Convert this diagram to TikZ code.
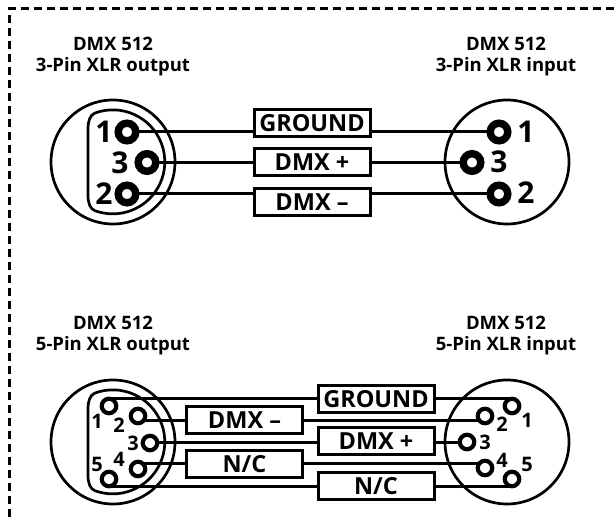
\documentclass[tikz,border=0pt]{standalone}
\usepackage{fontspec}
\setmainfont{Open Sans}
\usetikzlibrary{backgrounds}
\tikzset{
  x=1pt,y=-1pt,
  every node/.style={inner sep=0pt,outer sep=0pt},
  title/.style={font=\bfseries\fontsize{18.5}{20}\selectfont,anchor=base},
  body/.style={draw,line width=2.7pt,circle,minimum size=124pt},
  insert/.style={line width=2.7pt,line join=round},
  bigpin/.style={circle,draw,fill=white,line width=7.4pt,minimum size=17.6pt},
  smallpin/.style={circle,draw,fill=white,line width=4.2pt,minimum size=14.5pt},
  bignum/.style={font=\bfseries\fontsize{30}{32}\selectfont},
  smallnum/.style={font=\bfseries\fontsize{20}{22}\selectfont},
  signal/.style={draw,fill=white,line width=3pt,minimum width=116pt,minimum height=27pt,font=\bfseries\fontsize{23.5}{25}\selectfont},
  wire/.style={line width=3pt},
  frame/.style={line width=3pt,dash pattern=on 8pt off 5pt}
}
\begin{document}
\begin{tikzpicture}
\useasboundingbox (0,0) rectangle (614,526);
\coordinate (fa) at (614,9);
\coordinate (fb) at (9,9);
\coordinate (fc) at (9,520);
\draw[frame] (fa) -- (fb) -- (fc);

\node[title] (t1a) at (113,51) {DMX 512};
\node[title] (t1b) at (113,72) {3-Pin XLR output};
\node[title] (t2a) at (506,51) {DMX 512};
\node[title] (t2b) at (506,72) {3-Pin XLR input};
\node[title] (t3a) at (113,330) {DMX 512};
\node[title] (t3b) at (113,351) {5-Pin XLR output};
\node[title] (t4a) at (506,330) {DMX 512};
\node[title] (t4b) at (506,351) {5-Pin XLR input};

% 3-pin
\node[body] (bl3) at (113,162) {};
\node[body] (br3) at (507,162) {};
\draw[insert] (95,113) arc[start angle=110,end angle=-110,radius=52pt]
   .. controls (90,209) and (88,203) .. (88,195) -- (88,129)
   .. controls (88,121) and (90,115) .. cycle;
\node[bigpin] (a1) at (127,132) {};
\node[bigpin] (a3) at (147,162.5) {};
\node[bigpin] (a2) at (127,194) {};
\node[bigpin] (b1) at (499,132) {};
\node[bigpin] (b3) at (472,162.5) {};
\node[bigpin] (b2) at (499,194) {};
\node[bignum] (na1) at (104,132) {1};
\node[bignum] (na3) at (120,163) {3};
\node[bignum] (na2) at (104,194) {2};
\node[bignum] (nb1) at (526,132) {1};
\node[bignum] (nb3) at (499,162) {3};
\node[bignum] (nb2) at (526,193) {2};
\node[signal] (g3) at (312,123.5) {GROUND};
\node[signal] (p3) at (312,162.5) {DMX +};
\node[signal] (m3) at (312,202) {DMX –};
\begin{scope}[on background layer]
\draw[wire] (a1) -- (g3.west |- a1);
\draw[wire] (g3.east |- a1) -- (b1);
\draw[wire] (a3) -- (p3.west |- a3);
\draw[wire] (p3.east |- a3) -- (b3);
\draw[wire] (a2) -- (m3.west |- a2);
\draw[wire] (m3.east |- a2) -- (b2);
\end{scope}

% 5-pin
\node[body] (bl5) at (113,442) {};
\node[body] (br5) at (507,442) {};
\draw[insert] (95,393) arc[start angle=110,end angle=-110,radius=52pt]
   .. controls (90,489) and (88,483) .. (88,475) -- (88,409)
   .. controls (88,401) and (90,395) .. cycle;
\node[smallpin] (c1) at (109,406) {};
\node[smallpin] (c2) at (138,416) {};
\node[smallpin] (c3) at (150,443) {};
\node[smallpin] (c4) at (138,469) {};
\node[smallpin] (c5) at (109,479) {};
\node[smallpin] (d1) at (512,406) {};
\node[smallpin] (d2) at (485,416) {};
\node[smallpin] (d3) at (467,442) {};
\node[smallpin] (d4) at (485,468) {};
\node[smallpin] (d5) at (512,479) {};
\node[smallnum] (nc1) at (97,421) {1};
\node[smallnum] (nc2) at (119,425) {2};
\node[smallnum] (nc3) at (133,443) {3};
\node[smallnum] (nc4) at (119,459) {4};
\node[smallnum] (nc5) at (97,464) {5};
\node[smallnum] (nd1) at (527,420) {1};
\node[smallnum] (nd2) at (502,424) {2};
\node[smallnum] (nd3) at (485,442) {3};
\node[smallnum] (nd4) at (502,460) {4};
\node[smallnum] (nd5) at (527,464) {5};
\node[signal] (g5) at (376,399) {GROUND};
\node[signal] (p5) at (376,441.5) {DMX +};
\node[signal] (n5) at (376,486.5) {N/C};
\node[signal] (m5) at (244.5,420.5) {DMX –};
\node[signal] (o5) at (244.5,464.5) {N/C};
\coordinate (w1) at (0,399);
\coordinate (w2) at (0,421);
\coordinate (w3) at (0,443);
\coordinate (w4) at (0,464);
\coordinate (w5) at (0,487);
\begin{scope}[on background layer]
\draw[wire] (c1 |- w1) -- (g5.west |- w1);
\draw[wire] (g5.east |- w1) -- (d1 |- w1);
\draw[wire] (c2 |- w2) -- (m5.west |- w2);
\draw[wire] (m5.east |- w2) -- (d2 |- w2);
\draw[wire] (c3 |- w3) -- (p5.west |- w3);
\draw[wire] (p5.east |- w3) -- (d3 |- w3);
\draw[wire] (c4 |- w4) -- (o5.west |- w4);
\draw[wire] (o5.east |- w4) -- (d4 |- w4);
\draw[wire] (c5 |- w5) -- (n5.west |- w5);
\draw[wire] (n5.east |- w5) -- (d5 |- w5);
\end{scope}
\end{tikzpicture}
\end{document}
